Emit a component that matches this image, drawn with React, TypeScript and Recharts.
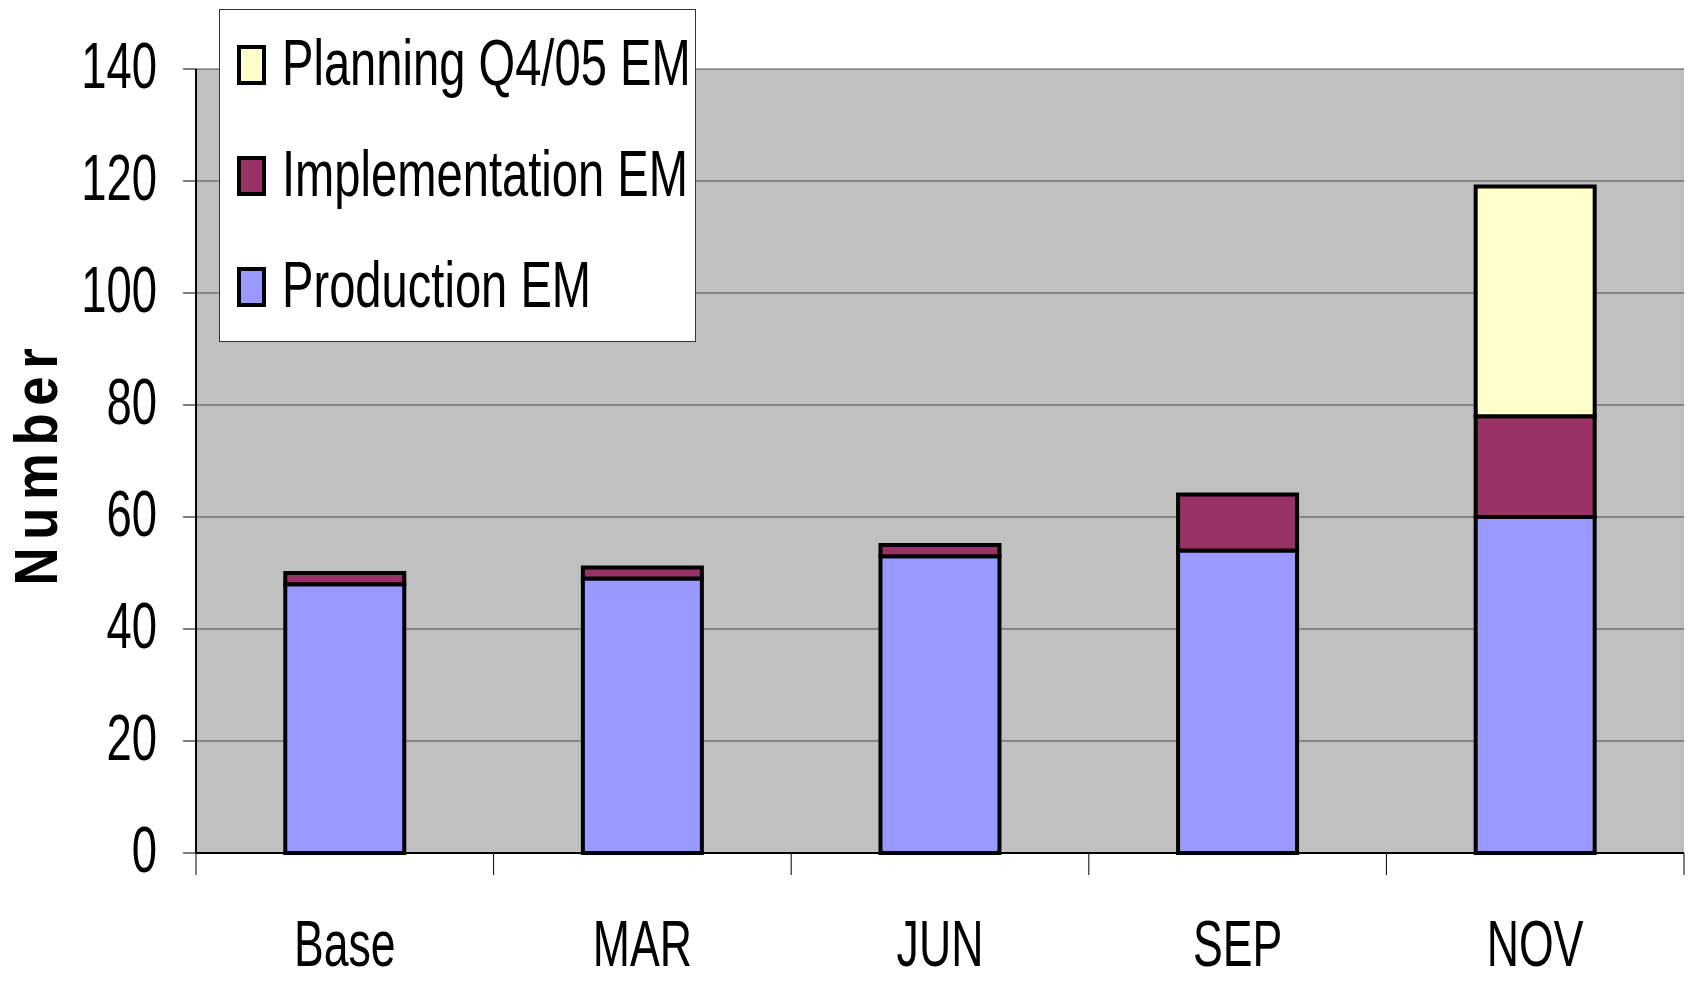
import { BarChart, Bar, XAxis, YAxis, CartesianGrid, Legend } from 'recharts'

const categories = ['Base', 'MAR', 'JUN', 'SEP', 'NOV']
const production = [48, 49, 53, 54, 60]
const implementation = [2, 2, 2, 10, 18]
const planning = [0, 0, 0, 0, 41]
const yTicks = [0, 20, 40, 60, 80, 100, 120, 140]

const series = [
  { key: 'production', name: 'Production EM', color: '#9999FF' },
  { key: 'implementation', name: 'Implementation EM', color: '#993366' },
  { key: 'planning', name: 'Planning Q4/05 EM', color: '#FFFFCC' },
]

const data = categories.map((name, i) => ({
  name,
  production: production[i],
  implementation: implementation[i],
  planning: planning[i],
}))

const W = 1692
const H = 981
const PLOT_LEFT = 196
const PLOT_RIGHT = 1684
const PLOT_TOP = 69
const PLOT_BOTTOM = 853
const BAND = (PLOT_RIGHT - PLOT_LEFT) / categories.length
const FONT = '"Liberation Sans", Arial, sans-serif'

function YTick({ x, y, payload }: any) {
  return (
    <text
      transform={`translate(${x},${y + 19}) scale(0.71,1.02)`}
      textAnchor="end"
      fontSize={64}
      fontFamily={FONT}
      fill="#000"
    >
      {payload.value}
    </text>
  )
}

function XTick({ x, y, payload, index }: any) {
  const last = index === categories.length - 1
  return (
    <g>
      <line x1={x - BAND / 2} x2={x - BAND / 2} y1={y} y2={y + 22} stroke="#000" strokeWidth={1} />
      {last && <line x1={x + BAND / 2} x2={x + BAND / 2} y1={y} y2={y + 22} stroke="#000" strokeWidth={1} />}
      <text
        transform={`translate(${x},${y + 113}) scale(0.72,1.04)`}
        textAnchor="middle"
        fontSize={62}
        fontFamily={FONT}
        fill="#000"
      >
        {payload.value}
      </text>
    </g>
  )
}

function LegendBox() {
  const rows = [...series].reverse()
  return (
    <div
      style={{
        width: 475,
        height: 331,
        background: '#fff',
        border: '1px solid #333',
        position: 'relative',
      }}
    >
      {rows.map((s, i) => (
        <div key={s.key} style={{ position: 'absolute', left: 0, top: 56 + i * 111 - 20, height: 40 }}>
          <div
            style={{
              position: 'absolute',
              left: 17,
              top: -1,
              width: 21,
              height: 32,
              background: s.color,
              border: '4px solid #000',
            }}
          />
          <div
            style={{
              position: 'absolute',
              left: 62,
              top: -15,
              fontFamily: FONT,
              fontSize: 65,
              lineHeight: '64px',
              whiteSpace: 'nowrap',
              transform: 'scaleX(0.725)',
              transformOrigin: 'left center',
              color: '#000',
            }}
          >
            {s.name}
          </div>
        </div>
      ))}
    </div>
  )
}

export default function App() {
  return (
    <div style={{ position: 'absolute', left: 0, top: 0, width: W, height: H, background: '#fff' }}>
      <BarChart
        width={W}
        height={H}
        data={data}
        margin={{ top: PLOT_TOP, right: W - PLOT_RIGHT, left: 0, bottom: 0 }}
        barCategoryGap="30%"
      >
        <CartesianGrid vertical={false} fill="#C0C0C0" stroke="#4d4d4d" strokeWidth={1} />
        <XAxis
          dataKey="name"
          interval={0}
          height={H - PLOT_BOTTOM}
          tickLine={false}
          tickSize={0}
          tickMargin={0}
          axisLine={{ stroke: '#000', strokeWidth: 2 }}
          tick={<XTick />}
        />
        <XAxis xAxisId="top" dataKey="name" orientation="top" height={0} tick={false} tickLine={false} axisLine={{ stroke: '#808080', strokeWidth: 5 }} />
        <YAxis
          domain={[0, 140]}
          ticks={yTicks}
          width={PLOT_LEFT}
          tickSize={13}
          tickMargin={26}
          tickLine={{ stroke: '#000', strokeWidth: 1 }}
          axisLine={{ stroke: '#000', strokeWidth: 2 }}
          tick={<YTick />}
          label={{
            content: () => (
              <text
                transform="translate(57,463) rotate(-90) scale(0.85,1)"
                textAnchor="middle"
                fontSize={62}
                fontWeight="bold"
                fontFamily={FONT}
                letterSpacing={9}
                fill="#000"
              >
                Number
              </text>
            ),
          }}
        />
        <YAxis yAxisId="right" orientation="right" width={0} tick={false} tickLine={false} axisLine={{ stroke: '#808080', strokeWidth: 4 }} />
        <Legend
          layout="vertical"
          align="center"
          verticalAlign="middle"
          wrapperStyle={{ left: 219, top: 9, width: 477, height: 333 }}
          content={() => <LegendBox />}
        />
        {series.map((s) => (
          <Bar
            key={s.key}
            dataKey={s.key}
            name={s.name}
            stackId="a"
            fill={s.color}
            stroke="#000"
            strokeWidth={4}
            isAnimationActive={false}
          />
        ))}
      </BarChart>
    </div>
  )
}
